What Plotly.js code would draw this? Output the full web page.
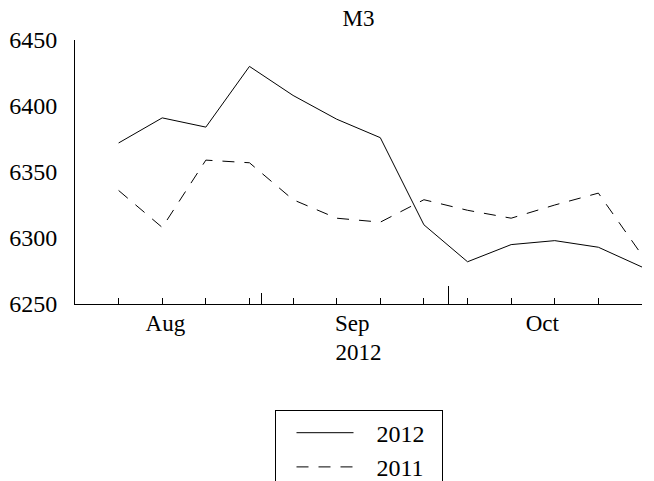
<!DOCTYPE html>
<html><head><meta charset="utf-8">
<script src="https://cdn.plot.ly/plotly-3.0.1.min.js"></script>
<style>html,body{margin:0;padding:0;background:#fff}</style>
</head><body>
<div id="chart" style="width:654px;height:481px"></div>
<script>
const dates = ['2012-08-09','2012-08-16','2012-08-23','2012-08-30','2012-09-06','2012-09-13','2012-09-20','2012-09-27','2012-10-04','2012-10-11','2012-10-18','2012-10-25','2012-11-01'];
const m3_2012 = [6372,6391,6384,6430,6408,6390,6376,6310,6282,6295,6298,6293,6278];
const m3_2011 = [6336,6308,6359,6357,6329,6315,6312,6329,6321,6315,6325,6334,6287];
const seriesNames = ['2012','2011'];
const monthLabelDates = ['2012-08-16 12:00','2012-09-15 12:00','2012-10-16'];
const monthLabels = ['Aug','Sep','Oct'];
const monthStarts = ['2012-09-01','2012-10-01'];
const xRange = ['2012-08-02 00:00','2012-11-01'];
const yTicks = [6250,6300,6350,6400,6450];

const FAM = 'Liberation Serif, Times New Roman, serif';
const NB = '\u00A0';
const pad = s => NB + NB + NB + s + NB + NB;
const traces = [
  {x:dates, y:m3_2012, type:'scatter', mode:'lines', name:pad(seriesNames[0]), line:{color:'#000', width:1}},
  {x:dates, y:m3_2011, type:'scatter', mode:'lines', name:pad(seriesNames[1]), line:{color:'#000', width:1, dash:'12px,10px'}}
];
const layout = {
  width:654, height:481,
  margin:{l:75, r:12, t:40, b:177, autoexpand:false},
  paper_bgcolor:'#fff', plot_bgcolor:'#fff',
  font:{family:FAM, color:'#000', size:24},
  showlegend:true,
  title:{text:'M3', x:0.5, xref:'paper', y:0.962, yanchor:'middle', font:{family:FAM, size:23, color:'#000'}},
  xaxis:{type:'date', range:xRange, showgrid:false, zeroline:false, showline:true, linecolor:'#000', linewidth:1,
    tickmode:'array', tickvals:monthStarts, ticks:'inside', ticklen:11, tickcolor:'#000', showticklabels:false,
    minor:{tickmode:'array', tickvals:dates, ticks:'inside', ticklen:6, tickcolor:'#000', showgrid:false}},
  xaxis2:{type:'date', range:xRange, overlaying:'x', side:'bottom', showgrid:false, zeroline:false, showline:false,
    tickmode:'array', tickvals:monthLabelDates, ticktext:monthLabels, ticks:'', ticklabelstandoff:3,
    tickfont:{family:FAM, size:23},
    title:{text:'2012', font:{family:FAM, size:23}, standoff:8}},
  xaxis3:{type:'date', range:xRange, overlaying:'x', side:'bottom', showgrid:false, zeroline:false, showline:false,
    tickmode:'array', tickvals:[monthStarts[1]], ticks:'inside', ticklen:18, tickcolor:'#000', showticklabels:false},
  yaxis:{range:[6250,6450], tickmode:'array', tickvals:yTicks, showgrid:false, zeroline:false, showline:true,
    linecolor:'#000', linewidth:1, ticks:'', ticklabelstandoff:12, tickfont:{family:FAM, size:24}},
  legend:{x:0.5, xanchor:'center', y:-0.4, yanchor:'top', bordercolor:'#000', borderwidth:1,
    font:{family:FAM, size:24}, itemwidth:57, tracegroupgap:0,
    title:{text:NB, side:'left', font:{family:FAM, size:24}}}
};
const t3 = {x:dates, y:m3_2012, type:'scatter', mode:'none', xaxis:'x3', showlegend:false, hoverinfo:'skip'};
const t2 = {x:dates, y:m3_2012, type:'scatter', mode:'none', xaxis:'x2', showlegend:false, hoverinfo:'skip'};
Plotly.newPlot('chart', traces.concat([t2,t3]), layout, {staticPlot:true});
</script>
</body></html>
